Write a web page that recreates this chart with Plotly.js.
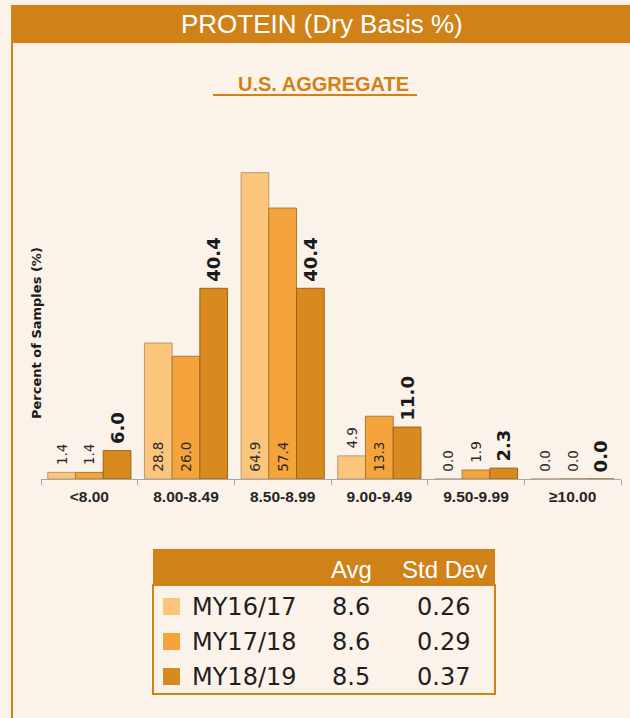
<!DOCTYPE html>
<html>
<head>
<meta charset="utf-8">
<script src="https://cdn.plot.ly/plotly-3.0.1.min.js"></script>
<style>
  html, body { margin: 0; padding: 0; background: #FBF3EA; }
  #chart { width: 630px; height: 718px; }
</style>
</head>
<body>
<div id="chart"></div>
<script>
// ---- data ----
const categories = ["<8.00", "8.00-8.49", "8.50-8.99", "9.00-9.49", "9.50-9.99", "\u226510.00"];
const seriesNames = ["MY16/17", "MY17/18", "MY18/19"];
const my1617 = [1.4, 28.8, 64.9, 4.9, 0.0, 0.0];
const my1718 = [1.4, 26.0, 57.4, 13.3, 1.9, 0.0];
const my1819 = [6.0, 40.4, 40.4, 11.0, 2.3, 0.0];
const avgValues = ["8.6", "8.6", "8.5"];
const stdValues = ["0.26", "0.29", "0.37"];
const chartTitle = "PROTEIN (Dry Basis %)";
const subTitle = "U.S. AGGREGATE";
const yTitle = "Percent of Samples (%)";
const tableHeaders = ["Avg", "Std Dev"];

// ---- styling ----
const W = 630, H = 718;
const M = {l: 41, r: 9, t: 125, b: 239};
const plotW = W - M.l - M.r, plotH = H - M.t - M.b;
const px = x => (x - M.l) / plotW;
const py = y => (H - M.b - y) / plotH;
const ORANGE = "#D08218";
const BG = "#FBF3EA";
const barColors = ["#FCC57C", "#F4A43A", "#D98A1E"];
const lineColors = ["#B99A70", "#A87A38", "#9A6414"];

// text position: small bars get the label above, big ones inside at the base
function positions(vals, minInside) {
  return vals.map(v => v >= minInside ? "inside" : "outside");
}

const allSeries = [my1617, my1718, my1819];
const traces = allSeries.map((vals, i) => {
  const isLast = i === 2;
  return {
    type: "bar",
    name: seriesNames[i],
    x: categories,
    y: vals,
    marker: {color: barColors[i], line: {color: lineColors[i], width: 1}},
    texttemplate: isLast ? "\u2009<b>%{y:.1f}</b>" : "\u00a0%{y:.1f}",
    textposition: isLast ? "outside" : positions(vals, 10),
    insidetextanchor: "start",
    textangle: -90,
    constraintext: "none",
    cliponaxis: false,
    textfont: isLast
      ? {family: "DejaVu Sans", size: 18, color: "#1a1a1a"}
      : {family: "DejaVu Sans", size: 13.5, color: "#2a2a2a"},
    hoverinfo: "skip",
    showlegend: false
  };
});

const shapes = [
  {type: "rect", xref: "paper", yref: "paper", x0: px(11), x1: px(630), y0: py(5), y1: py(43),
   fillcolor: ORANGE, line: {width: 0}, layer: "below"},
  {type: "line", xref: "paper", yref: "paper", x0: px(12), x1: px(12), y0: py(43), y1: py(718),
   line: {color: ORANGE, width: 2}, layer: "below"},
  {type: "line", xref: "paper", yref: "paper", x0: px(213), x1: px(417), y0: py(95), y1: py(95),
   line: {color: ORANGE, width: 2}, layer: "below"},
  {type: "rect", xref: "paper", yref: "paper", x0: px(153), x1: px(495), y0: py(549), y1: py(586),
   fillcolor: ORANGE, line: {width: 0}, layer: "below"},
  {type: "rect", xref: "paper", yref: "paper", x0: px(153), x1: px(495), y0: py(585), y1: py(694),
   fillcolor: "rgba(0,0,0,0)", line: {color: ORANGE, width: 2}, layer: "below"}
];

const rowY = [607, 642, 677];
const annotations = [
  {text: chartTitle, xref: "paper", yref: "paper", x: px(322), y: py(24), showarrow: false,
   xanchor: "center", yanchor: "middle",
   font: {family: "Liberation Sans, Arial", size: 26, color: "#FFFFFF"}},
  {text: "<b>" + subTitle + "</b>", xref: "paper", yref: "paper", x: px(323), y: py(84), showarrow: false,
   xanchor: "center", yanchor: "middle",
   font: {family: "Liberation Sans Narrow, Arial Narrow, Liberation Sans", size: 20, color: ORANGE, stretch: "condensed"}},
  {text: "<b>" + yTitle + "</b>", xref: "paper", yref: "paper", x: px(36), y: py(333), showarrow: false,
   textangle: -90, xanchor: "center", yanchor: "middle",
   font: {family: "DejaVu Sans", size: 13, color: "#1a1a1a"}},
  {text: tableHeaders[0], xref: "paper", yref: "paper", x: px(351), y: py(569), showarrow: false,
   xanchor: "center", yanchor: "middle",
   font: {family: "Liberation Sans, Arial", size: 24, color: "#FFFFFF"}},
  {text: tableHeaders[1], xref: "paper", yref: "paper", x: px(444), y: py(569), showarrow: false,
   xanchor: "center", yanchor: "middle",
   font: {family: "Liberation Sans, Arial", size: 24, color: "#FFFFFF"}}
];

seriesNames.forEach((nm, i) => {
  shapes.push({type: "rect", xref: "paper", yref: "paper",
    x0: px(163), x1: px(180), y0: py(rowY[i] - 9), y1: py(rowY[i] + 8),
    fillcolor: barColors[i], line: {width: 0}});
  annotations.push({text: nm, xref: "paper", yref: "paper", x: px(190), y: py(rowY[i]),
    showarrow: false, xanchor: "left", yanchor: "middle",
    font: {family: "DejaVu Sans", size: 24, color: "#1f1f1f"}});
  annotations.push({text: avgValues[i], xref: "paper", yref: "paper", x: px(351), y: py(rowY[i]),
    showarrow: false, xanchor: "center", yanchor: "middle",
    font: {family: "DejaVu Sans", size: 24, color: "#1f1f1f"}});
  annotations.push({text: stdValues[i], xref: "paper", yref: "paper", x: px(443), y: py(rowY[i]),
    showarrow: false, xanchor: "center", yanchor: "middle",
    font: {family: "DejaVu Sans", size: 24, color: "#1f1f1f"}});
});

const layout = {
  width: W, height: H,
  margin: M,
  paper_bgcolor: BG,
  plot_bgcolor: BG,
  barmode: "group",
  bargap: 0.14,
  bargroupgap: 0,
  showlegend: false,
  xaxis: {
    type: "category",
    tickvals: categories,
    ticktext: categories.map(c => "<b>" + c + "</b>"),
    showline: true, linecolor: "#A8A8A8", linewidth: 1,
    ticks: "outside", tickson: "boundaries", ticklen: 5, tickcolor: "#A8A8A8",
    ticklabelstandoff: 3,
    showgrid: false, zeroline: false,
    tickfont: {family: "Liberation Sans, Arial", size: 15.5, color: "#262626"},
    fixedrange: true
  },
  yaxis: {
    range: [0, 75], visible: false, showgrid: false, zeroline: false, fixedrange: true
  },
  shapes: shapes,
  annotations: annotations
};

Plotly.newPlot("chart", traces, layout, {displayModeBar: false, staticPlot: true});
</script>
</body>
</html>
